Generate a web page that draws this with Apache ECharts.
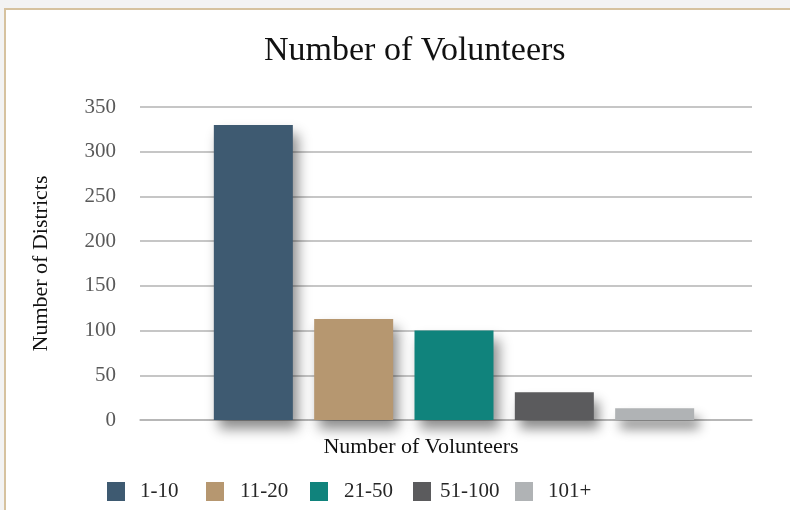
<!DOCTYPE html>
<html>
<head>
<meta charset="utf-8">
<script src="https://cdn.jsdelivr.net/npm/echarts@6/dist/echarts.min.js"></script>
<style>
html,body{margin:0;padding:0;background:#f3f3f3;}
#c{width:790px;height:510px;}
</style>
</head>
<body>
<div id="c"></div>
<script>
const categories = ['Number of Volunteers'];
const seriesNames = ['1-10', '11-20', '21-50', '51-100', '101+'];
const seriesValues = [330, 113, 100, 31, 13];
const colors = ['#3e5a71', '#b69770', '#10837c', '#5b5b5d', '#b0b3b5'];
const yTicks = [0, 50, 100, 150, 200, 250, 300, 350];

const FONT = '"Liberation Serif", "DejaVu Serif", serif';
const legendLeft = [102, 201, 305, 408, 510];
const legendPad = [10, 11, 11, 4, 10];

const chart = echarts.init(document.getElementById('c'));
chart.setOption({
  backgroundColor: 'transparent',
  graphic: [{
    type: 'rect', z: -10, silent: true,
    shape: {x: 5, y: 9, width: 820, height: 540},
    style: {fill: '#ffffff', stroke: '#d6c29f', lineWidth: 2}
  }],
  title: {
    text: 'Number of Volunteers',
    left: 259, top: 29,
    textStyle: {fontFamily: FONT, fontSize: 34, fontWeight: 'normal', color: '#111111'}
  },
  legend: seriesNames.map((n, i) => ({
    data: [n],
    left: legendLeft[i], top: 476,
    itemWidth: 18, itemHeight: 19,
    icon: 'rect',
    selectedMode: false,
    textStyle: {fontFamily: FONT, fontSize: 21, color: '#262626', padding: [0, 0, 0, legendPad[i]]}
  })),
  grid: [
    {left: 140, right: 38, top: 107, bottom: 90},
    {left: 148, right: 30, top: 107, bottom: 90}
  ],
  xAxis: [{
    gridIndex: 0,
    type: 'category',
    data: categories,
    name: 'Number of Volunteers',
    nameLocation: 'middle',
    nameGap: 16,
    nameTextStyle: {fontFamily: FONT, fontSize: 22, color: '#111111', padding: [0, 50, 0, 0]},
    axisLine: {show: true, lineStyle: {color: '#b3b3b3', width: 1.5}},
    axisTick: {show: false},
    axisLabel: {show: false}
  }, {
    gridIndex: 1,
    type: 'category',
    data: categories,
    show: false
  }],
  yAxis: [{
    gridIndex: 0,
    type: 'value',
    min: yTicks[0], max: yTicks[yTicks.length - 1], interval: 50,
    name: 'Number of Districts',
    nameLocation: 'middle',
    nameGap: 88,
    nameTextStyle: {fontFamily: FONT, fontSize: 22, color: '#111111'},
    axisLine: {show: false},
    axisTick: {show: false},
    axisLabel: {fontFamily: FONT, fontSize: 21, color: '#595959', margin: 24},
    splitLine: {lineStyle: {color: '#b3b3b3', width: 1.5}}
  }, {
    gridIndex: 1,
    type: 'value',
    min: yTicks[0], max: yTicks[yTicks.length - 1], interval: 50,
    show: false,
    splitLine: {show: false}
  }],
  series: seriesNames.map((n, i) => ({
    name: n,
    type: 'bar',
    xAxisIndex: 1,
    yAxisIndex: 1,
    data: [seriesValues[i]],
    barWidth: 79,
    barGap: '27%',
    itemStyle: {
      color: colors[i],
      shadowColor: 'rgba(0,0,0,0.45)',
      shadowBlur: 12,
      shadowOffsetX: 5,
      shadowOffsetY: 9
    }
  }))
});
</script>
</body>
</html>
